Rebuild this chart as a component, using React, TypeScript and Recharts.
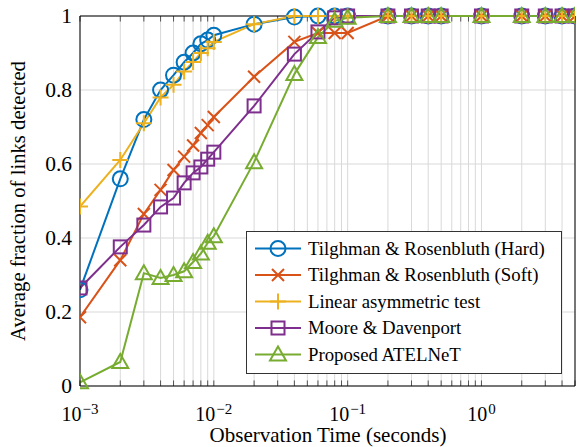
import React from "react";
import { LineChart, Line, XAxis, YAxis, CartesianGrid, ReferenceLine } from "recharts";

const times = [0.001, 0.002, 0.003, 0.004, 0.005, 0.006, 0.007, 0.008, 0.009, 0.01, 0.02, 0.04, 0.06, 0.08, 0.1, 0.2, 0.3, 0.4, 0.5, 1, 2, 3, 4, 5];
const hard = [0.26, 0.56, 0.72, 0.8, 0.84, 0.875, 0.9, 0.925, 0.935, 0.948, 0.978, 0.997, 1, 1, 1, 1, 1, 1, 1, 1, 1, 1, 1, 1];
const soft = [0.186, 0.34, 0.465, 0.53, 0.584, 0.62, 0.65, 0.684, 0.705, 0.727, 0.836, 0.93, 0.954, 0.954, 0.954, 1, 1, 1, 1, 1, 1, 1, 1, 1];
const linear = [0.485, 0.611, 0.71, 0.78, 0.814, 0.85, 0.876, 0.9, 0.913, 0.93, 0.978, 1, 1, 1, 1, 1, 1, 1, 1, 1, 1, 1, 1, 1];
const moore = [0.265, 0.376, 0.435, 0.484, 0.508, 0.549, 0.576, 0.592, 0.613, 0.632, 0.757, 0.897, 0.957, 0.995, 1, 1, 1, 1, 1, 1, 1, 1, 1, 1];
const atelnet = [0.01, 0.065, 0.305, 0.292, 0.3, 0.31, 0.335, 0.358, 0.387, 0.405, 0.605, 0.843, 0.943, 0.987, 0.995, 1, 1, 1, 1, 1, 1, 1, 1, 1];

const majorTicks = [0.001, 0.01, 0.1, 1];
const majorLabels = ["−3", "−2", "−1", "0"];
const yTicks = [0, 0.2, 0.4, 0.6, 0.8, 1];

const xTitle = "Observation Time (seconds)";
const yTitle = "Average fraction of links detected";

const seriesNames = [
  "Tilghman & Rosenbluth (Hard)",
  "Tilghman & Rosenbluth (Soft)",
  "Linear asymmetric test",
  "Moore & Davenport",
  "Proposed ATELNeT",
];
const colors = ["#0072BD", "#D95319", "#EDB120", "#7E2F8E", "#77AC30"];
const keys = ["hard", "soft", "linear", "moore", "atelnet"];
const markers = ["circle", "cross", "plus", "square", "triangle"];

const data = times.map((t, i) => ({
  t,
  hard: hard[i],
  soft: soft[i],
  linear: linear[i],
  moore: moore[i],
  atelnet: atelnet[i],
}));

const minorTicks: number[] = [];
for (let e = -3; e <= 0; e++) {
  for (let m = 1; m <= 9; m++) {
    const v = m * Math.pow(10, e);
    if (v <= 5.0001) minorTicks.push(Number(v.toPrecision(3)));
  }
}

const FONT = "Liberation Serif, serif";

function Marker({ type, cx, cy, color }: { type: string; cx: number; cy: number; color: string }) {
  const sw = 2;
  if (type === "circle") return <circle cx={cx} cy={cy} r={7.5} fill="none" stroke={color} strokeWidth={sw} />;
  if (type === "square") return <rect x={cx - 6.5} y={cy - 6.5} width={13} height={13} fill="none" stroke={color} strokeWidth={sw} />;
  if (type === "triangle") {
    const s = 8;
    return (
      <polygon
        points={`${cx},${cy - s} ${cx - s},${cy + s * 0.75} ${cx + s},${cy + s * 0.75}`}
        fill="none"
        stroke={color}
        strokeWidth={sw}
      />
    );
  }
  if (type === "plus") {
    const s = 8;
    return <path d={`M${cx - s},${cy}H${cx + s}M${cx},${cy - s}V${cy + s}`} stroke={color} strokeWidth={sw} fill="none" />;
  }
  const s = 6;
  return <path d={`M${cx - s},${cy - s}L${cx + s},${cy + s}M${cx - s},${cy + s}L${cx + s},${cy - s}`} stroke={color} strokeWidth={sw} fill="none" />;
}

const makeDot = (type: string, color: string) => (props: any) => {
  const { cx, cy, index } = props;
  if (cx == null || cy == null) return <g key={`d-${type}-${index}`} />;
  return (
    <g key={`d-${type}-${index}`}>
      <Marker type={type} cx={cx} cy={cy} color={color} />
    </g>
  );
};

const XTick = (props: any) => {
  const { x, y, payload } = props;
  const idx = majorTicks.indexOf(payload.value);
  return (
    <text x={x} y={y + 27} textAnchor="middle" style={{ fontFamily: FONT, fontSize: 20 }} fill="#000">
      <tspan>10</tspan>
      <tspan dy={-7} dx={1} style={{ fontSize: 15 }}>{majorLabels[idx]}</tspan>
    </text>
  );
};

const YTick = (props: any) => {
  const { x, y, payload } = props;
  return (
    <text x={x} y={y + 7} textAnchor="end" style={{ fontFamily: FONT, fontSize: 21.5 }} fill="#000">
      {String(payload.value)}
    </text>
  );
};

const LegendBox = () => (
  <svg width={317} height={144} style={{ display: "block" }}>
    <rect x={0.5} y={0.5} width={315} height={142} fill="#fff" stroke="#333" strokeWidth={1} />
    {seriesNames.map((name, i) => {
      const cy = 17.5 + i * 26.5;
      return (
        <g key={name}>
          <line x1={9} x2={55} y1={cy} y2={cy} stroke={colors[i]} strokeWidth={2} />
          <Marker type={markers[i]} cx={32} cy={cy} color={colors[i]} />
          <text x={62} y={cy + 6} style={{ fontFamily: FONT, fontSize: 18.8 }} fill="#000">
            {name}
          </text>
        </g>
      );
    })}
  </svg>
);

export default function App() {
  return (
    <div style={{ position: "absolute", left: 0, top: 0, width: 585, height: 447, background: "#fff" }}>
      <LineChart width={585} height={447} data={data} margin={{ top: 16, right: 10, bottom: 31, left: 40 }}>
        <CartesianGrid
          stroke="#d9d9d9"
          strokeWidth={1}
          verticalValues={minorTicks}
          horizontalValues={yTicks}
        />
        <XAxis
          dataKey="t"
          type="number"
          scale="log"
          domain={[0.001, 5]}
          allowDataOverflow
          ticks={majorTicks}
          tick={<XTick />}
          tickLine={false}
          axisLine={{ stroke: "#000", strokeWidth: 1 }}
          height={30}
          interval={0}
        />
        <YAxis
          type="number"
          domain={[0, 1]}
          ticks={yTicks}
          tick={<YTick />}
          tickLine={false}
          tickSize={6}
          tickMargin={2}
          axisLine={{ stroke: "#000", strokeWidth: 1 }}
          width={40}
          interval={0}
        />
        {minorTicks.map((v) => (
          <ReferenceLine
            key={`bt-${v}`}
            segment={[{ x: v, y: 0 }, { x: v, y: 0.015 }]}
            stroke="#555"
            strokeWidth={1}
          />
        ))}
        {minorTicks.map((v) => (
          <ReferenceLine
            key={`tt-${v}`}
            segment={[{ x: v, y: 1 }, { x: v, y: 0.985 }]}
            stroke="#555"
            strokeWidth={1}
          />
        ))}
        <ReferenceLine y={1} stroke="#000" strokeWidth={1} />
        <ReferenceLine x={5} stroke="#000" strokeWidth={1} />
        {keys.map((k, i) => (
          <Line
            key={k}
            dataKey={k}
            type="linear"
            stroke={colors[i]}
            strokeWidth={2}
            dot={makeDot(markers[i], colors[i])}
            activeDot={false}
            isAnimationActive={false}
          />
        ))}
      </LineChart>
      <div style={{ position: "absolute", left: 246, top: 231 }}>
        <LegendBox />
      </div>
      <svg style={{ position: "absolute", left: 0, top: 0, pointerEvents: "none" }} width={585} height={447}>
        <text
          x={0}
          y={0}
          transform="translate(25,201) rotate(-90)"
          textAnchor="middle"
          style={{ fontFamily: FONT, fontSize: 20.7 }}
          fill="#000"
        >
          {yTitle}
        </text>
        <text x={328} y={442} textAnchor="middle" style={{ fontFamily: FONT, fontSize: 21 }} fill="#000">
          {xTitle}
        </text>
      </svg>
    </div>
  );
}
